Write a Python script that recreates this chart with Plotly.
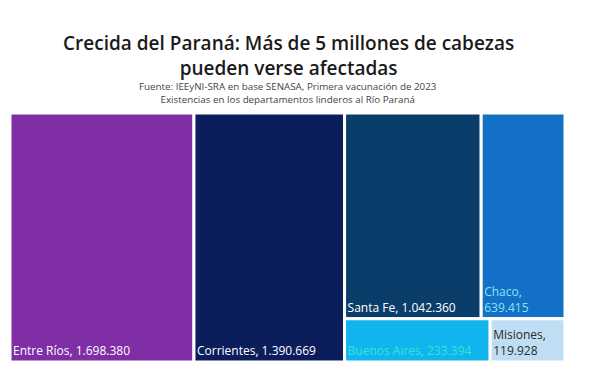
import plotly.graph_objects as go

# Data
provincias = ["Entre Ríos", "Corrientes", "Santa Fe", "Chaco", "Buenos Aires", "Misiones"]
cabezas = [1698380, 1390669, 1042360, 639415, 233394, 119928]
fila = ["", "", "arriba", "arriba", "abajo", "abajo"]
colores = ["#7f2ea6", "#0c1d5c", "#0b3d6b", "#1271c6", "#12b4ee", "#c0def3"]
colores_texto = ["#ffffff", "#ffffff", "#ffffff", "#8ae2f5", "#35e3d6", "#2a2a2a"]
plantillas = ["%{label}, %{value:,}", "%{label}, %{value:,}", "%{label}, %{value:,}",
              "%{label},<br>%{value:,}", "%{label}, %{value:,}", "%{label},<br>%{value:,}"]

titulo = "Crecida del Paraná: Más de 5 millones de cabezas<br>pueden verse afectadas"
sub1 = "Fuente: IEEyNI-SRA en base SENASA, Primera vacunación de 2023"
sub2 = "Existencias en los departamentos linderos al Río Paraná"

# hierarchy (hidden grouping nodes to reproduce the layout)
ids = ["total", "resto", "arriba", "abajo"]
labels = ["", "", "", ""]
parents = ["", "total", "resto", "resto"]
values = [0, 0, 0, 0]
mcolors = ["#ffffff"] * 4
tcolors = ["#ffffff"] * 4
tmpl = [""] * 4
for p, v, f, c, tc, t in zip(provincias, cabezas, fila, colores, colores_texto, plantillas):
    ids.append(p)
    labels.append(p)
    parents.append(f if f else "total")
    values.append(v)
    mcolors.append(c)
    tcolors.append(tc)
    tmpl.append(t)

# order so root children are Entre Ríos, Corrientes, resto
order = [0, 4, 5, 1, 2, 6, 7, 3, 8, 9]
ids = [ids[i] for i in order]
labels = [labels[i] for i in order]
parents = [parents[i] for i in order]
values = [values[i] for i in order]
mcolors = [mcolors[i] for i in order]
tcolors = [tcolors[i] for i in order]
tmpl = [tmpl[i] for i in order]

fig = go.Figure(go.Treemap(
    ids=ids, labels=labels, parents=parents, values=values,
    branchvalues="remainder", sort=False,
    marker=dict(colors=mcolors, line=dict(color="white", width=3),
                pad=dict(t=0, l=0, r=0, b=0)),
    tiling=dict(packing="slice-dice", pad=0),
    texttemplate=tmpl,
    textposition="bottom left",
    textfont=dict(family="Open Sans", size=12, color=tcolors),
    pathbar=dict(visible=False),
    root=dict(color="white"),
    hoverinfo="skip",
))

# page body has an 8px offset; compensate in margins
L, T, R, B = 2, 105, 43, 31
W, H = 600, 385
fig.update_layout(
    width=W, height=H,
    margin=dict(l=L, r=R, t=T, b=B),
    paper_bgcolor="white",
    separators=",.",
    showlegend=False,
)

def xp(px):
    return (px - 8 - L) / (W - L - R)

def yp(py):
    return (H - B - (py - 8)) / (H - T - B)

fig.add_annotation(text=titulo, x=xp(288), y=yp(55), xref="paper", yref="paper",
                   showarrow=False, xanchor="center", yanchor="middle",
                   font=dict(family="Open Sans", size=19, color="#1a1a1a", weight=600))
fig.add_annotation(text=sub1 + "<br>" + sub2, x=xp(288), y=yp(93.5), xref="paper", yref="paper",
                   showarrow=False, xanchor="center", yanchor="middle",
                   font=dict(family="Open Sans", size=9.8, color="#444444"))

fig.write_html("out.html")
